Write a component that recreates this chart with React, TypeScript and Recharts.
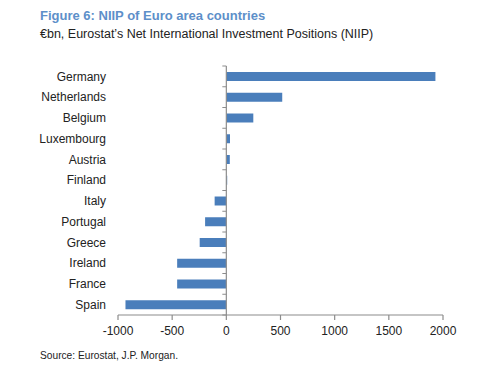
import { BarChart, Bar, XAxis, YAxis, ReferenceLine } from 'recharts';

const countries = [
  'Germany', 'Netherlands', 'Belgium', 'Luxembourg', 'Austria', 'Finland',
  'Italy', 'Portugal', 'Greece', 'Ireland', 'France', 'Spain',
];
const niip = [1930, 516, 249, 34, 32, 8, -108, -196, -246, -454, -454, -931];
const xTicks = [-1000, -500, 0, 500, 1000, 1500, 2000];

const AXIS = '#8c8c8c';
const BAR = '#4a7ebb';
const FONT = '"Liberation Sans", Arial, sans-serif';

const data = countries.map((name, i) => ({ name, value: niip[i] }));

// zero line with little ticks at each category boundary
function ZeroAxis(props: any) {
  const { x1, y1, y2 } = props;
  const n = countries.length;
  const step = (y2 - y1) / n;
  const marks = [];
  for (let i = 0; i <= n; i++) {
    const y = y1 + i * step;
    marks.push(<line key={i} x1={x1 - 4} x2={x1} y1={y} y2={y} stroke={AXIS} strokeWidth={1} />);
  }
  return (
    <g>
      <line x1={x1} x2={x1} y1={y1} y2={y2} stroke={AXIS} strokeWidth={1.2} />
      {marks}
    </g>
  );
}

export default function App() {
  return (
    <div style={{ position: 'absolute', left: 0, top: 0, width: 500, height: 365, background: '#fff', fontFamily: FONT }}>
      <div style={{ position: 'absolute', left: 40, top: 8, fontSize: 13, fontWeight: 'bold', color: '#5d8fc9' }}>
        Figure 6: NIIP of Euro area countries
      </div>
      <div style={{ position: 'absolute', left: 40, top: 27, fontSize: 12.5, color: '#222' }}>
        €bn, Eurostat’s Net International Investment Positions (NIIP)
      </div>
      <BarChart
        width={500}
        height={365}
        data={data}
        layout="vertical"
        margin={{ top: 66, right: 57, bottom: 20, left: 8 }}
      >
        <XAxis
          type="number"
          domain={[-1000, 2000]}
          ticks={xTicks}
          interval={0}
          stroke={AXIS}
          strokeWidth={1.2}
          tickSize={5}
          tickMargin={6}
          height={30}
          tick={{ fill: '#222', fontSize: 12, fontFamily: FONT }}
        />
        <YAxis
          type="category"
          dataKey="name"
          width={110}
          axisLine={false}
          tickLine={false}
          tickSize={0}
          tickMargin={12}
          interval={0}
          tick={{ fill: '#222', fontSize: 12, fontFamily: FONT }}
        />
        <ReferenceLine x={0} shape={ZeroAxis} />
        <Bar dataKey="value" fill={BAR} barSize={9} isAnimationActive={false} />
      </BarChart>
      <div style={{ position: 'absolute', left: 40, top: 350, fontSize: 10.2, color: '#222' }}>
        Source: Eurostat, J.P. Morgan.
      </div>
    </div>
  );
}
